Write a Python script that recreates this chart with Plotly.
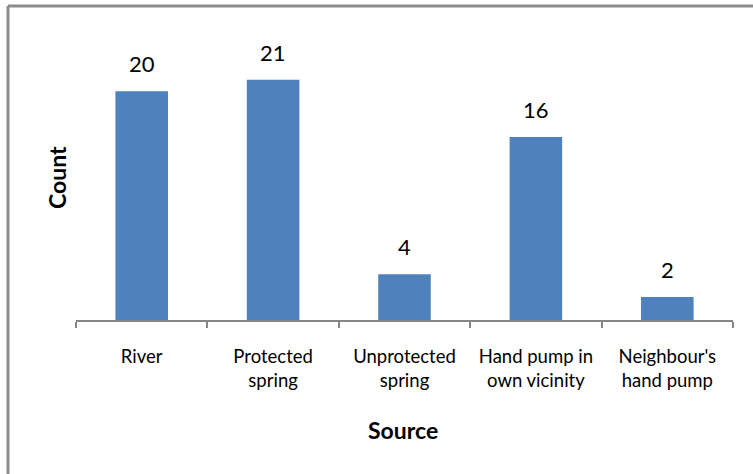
import plotly.graph_objects as go

# Water sources and respondent counts
sources = ["River", "Protected<br>spring", "Unprotected<br>spring",
           "Hand pump in<br>own vicinity", "Neighbour's<br>hand pump"]
counts = [20, 21, 4, 16, 2]

bar_color = "#4F81BD"
axis_color = "#868686"
font_family = "Lato, 'Open Sans', sans-serif"

fig = go.Figure()
fig.add_trace(go.Bar(
    x=sources, y=counts, marker=dict(color=bar_color, line=dict(width=0)),
    width=0.4, hoverinfo="x+y",
))

# Value labels above each bar
for s, c in zip(sources, counts):
    fig.add_annotation(x=s, y=c, text=str(c), showarrow=False,
                       yanchor="bottom", yshift=12,
                       font=dict(family=font_family, size=22, color="#000000"))

# Axis titles
fig.add_annotation(xref="paper", yref="paper", x=(403 - 76) / 657, y=(320 - 430) / 286,
                   xanchor="center", yanchor="middle",
                   text="<b>Source</b>", showarrow=False,
                   font=dict(family=font_family, size=23, color="#000000"))
fig.add_annotation(xref="paper", yref="paper", x=(57 - 76) / 657, y=(320 - 178) / 286,
                   xanchor="center", yanchor="middle",
                   text="<b>Count</b>", showarrow=False, textangle=-90,
                   font=dict(family=font_family, size=23, color="#000000"))

# Chart-area frame (top and left edges)
fig.add_shape(type="line", xref="paper", yref="paper",
              x0=(8 - 76) / 657, x1=(760 - 76) / 657,
              y0=(320 - 6) / 286, y1=(320 - 6) / 286,
              line=dict(color="#8c8c8c", width=3))
fig.add_shape(type="line", xref="paper", yref="paper",
              x0=(8 - 76) / 657, x1=(8 - 76) / 657,
              y0=(320 - 6) / 286, y1=(320 - 480) / 286,
              line=dict(color="#8c8c8c", width=3))

fig.update_layout(
    width=753, height=474,
    margin=dict(l=76, r=20, t=34, b=154),
    paper_bgcolor="white", plot_bgcolor="white",
    showlegend=False,
    font=dict(family=font_family, color="#000000"),
    xaxis=dict(
        type="category", showline=True, linecolor=axis_color, linewidth=2,
        ticks="outside", tickson="boundaries", ticklen=6, tickwidth=2,
        tickcolor=axis_color, showgrid=False,
        tickfont=dict(family=font_family, size=18.5, color="#000000"),
        ticklabelstandoff=19,
    ),
    yaxis=dict(range=[0, 25], visible=False, showgrid=False, zeroline=False),
)

fig.write_html("out.html")
